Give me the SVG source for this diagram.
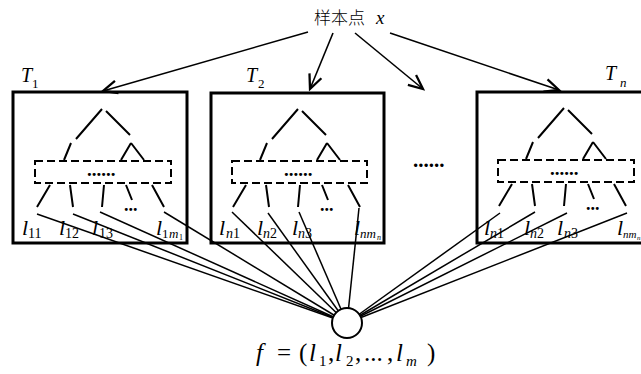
<svg xmlns="http://www.w3.org/2000/svg" width="641" height="374" viewBox="0 0 641 374">
<style>
.box{fill:none;stroke:#000;stroke-width:3}
.tr{fill:none;stroke:#000;stroke-width:2}
.dash{fill:none;stroke:#000;stroke-width:2;stroke-dasharray:8 4}
.con{fill:none;stroke:#000;stroke-width:1.5}
.arr{fill:none;stroke:#000;stroke-width:1.6}
.it{font-family:"Liberation Serif","Times New Roman",serif;font-style:italic;fill:#000}
.rm{font-family:"Liberation Serif","Times New Roman",serif;fill:#000}
.L{font-size:22px}
.S{font-size:14px}
.dots{font-family:"Liberation Serif",serif;font-weight:bold;fill:#000}
</style>
<defs>
<marker id="ah" markerUnits="userSpaceOnUse" markerWidth="20" markerHeight="20" viewBox="-12 -6 14 12" refX="0" refY="0" orient="auto">
<path d="M-10,-4.5 L0,0 L-10,4.5" fill="none" stroke="#000" stroke-width="1.6"/>
</marker>
<g id="tree">
<path class="tr" d="M0,0 L-26,30 M4,2 L28,26 M-31,34 L-38,51 M29,34 L19,51 M29,34 L42,51"/>
<path class="tr" d="M-52,76 L-65,98 M-32,76 L-29,98 M2,76 L0,98 M24,76 L30,91 M50,76 L62,98"/>
</g>
</defs>

<g id="connectors">
<line class="arr" x1="308" y1="32" x2="103" y2="91" marker-end="url(#ah)"/>
<line class="arr" x1="333" y1="33" x2="310" y2="89" marker-end="url(#ah)"/>
<line class="arr" x1="355" y1="33" x2="423" y2="89" marker-end="url(#ah)"/>
<line class="arr" x1="390" y1="33" x2="559" y2="90" marker-end="url(#ah)"/>
<line class="con" x1="37" y1="214" x2="347" y2="323"/>
<line class="con" x1="73" y1="214" x2="347" y2="323"/>
<line class="con" x1="100" y1="212" x2="347" y2="323"/>
<line class="con" x1="164" y1="212" x2="347" y2="323"/>
<line class="con" x1="232" y1="212" x2="347" y2="323"/>
<line class="con" x1="268" y1="213" x2="347" y2="323"/>
<line class="con" x1="299" y1="212" x2="347" y2="323"/>
<line class="con" x1="359" y1="208" x2="347" y2="323"/>
<line class="con" x1="500" y1="213" x2="347" y2="323"/>
<line class="con" x1="535" y1="212" x2="347" y2="323"/>
<line class="con" x1="567" y1="213" x2="347" y2="323"/>
<line class="con" x1="627" y1="213" x2="347" y2="323"/>
</g>

<g id="source">
<text x="314" y="24" font-family="Noto Sans CJK SC, sans-serif" font-size="17" font-weight="300" fill="#000">样本点</text>
<text x="376" y="24" class="it" font-size="19">x</text>
</g>

<g id="T1">
<rect class="box" x="13" y="92" width="174" height="151"/>
<text x="21" y="82" class="it" font-size="20">T</text>
<text x="32" y="88" class="rm" font-size="13">1</text>
<use href="#tree" x="102" y="109"/>
<rect class="dash" x="35" y="161" width="136" height="22"/>
<text x="87" y="176" class="dots" font-size="19">......</text>
<text x="124" y="211" class="dots" font-size="18">...</text>
<text x="22" y="235" class="it L">l</text><text x="28" y="238" class="rm S">11</text>
<text x="59" y="235" class="it L">l</text><text x="65" y="238" class="rm S">12</text>
<text x="92" y="235" class="it L">l</text><text x="99" y="238" class="rm S">13</text>
<text x="156" y="235" class="it L">l</text><text x="162" y="238" class="rm" font-size="13">1</text><text x="169" y="238" class="it" font-size="13">m</text><text x="179" y="240" class="rm" font-size="8">1</text>
</g>

<g id="T2">
<rect class="box" x="211" y="93" width="173" height="150"/>
<text x="246" y="82" class="it" font-size="20">T</text>
<text x="258" y="88" class="rm" font-size="13">2</text>
<use href="#tree" x="298" y="109"/>
<rect class="dash" x="232" y="161" width="135" height="22"/>
<text x="284" y="176" class="dots" font-size="19">......</text>
<text x="320" y="211" class="dots" font-size="18">...</text>
<text x="219" y="235" class="it L">l</text><text x="226" y="238" class="it S">n</text><text x="233" y="238" class="rm S">1</text>
<text x="257" y="235" class="it L">l</text><text x="263" y="238" class="it S">n</text><text x="270" y="238" class="rm S">2</text>
<text x="292" y="235" class="it L">l</text><text x="298" y="238" class="it S">n</text><text x="305" y="238" class="rm S">3</text>
<text x="354" y="235" class="it L">l</text><text x="360" y="238" class="it" font-size="13">nm</text><text x="377" y="240" class="it" font-size="8">n</text>
</g>

<g id="gap">
<text x="413" y="167" class="dots" font-size="21">......</text>
</g>

<g id="Tn">
<rect class="box" x="477" y="92" width="170" height="151"/>
<text x="605" y="80" class="it" font-size="20">T</text>
<text x="620" y="87" class="it" font-size="13">n</text>
<use href="#tree" x="564" y="108"/>
<rect class="dash" x="498" y="160" width="136" height="22"/>
<text x="550" y="175" class="dots" font-size="19">......</text>
<text x="586" y="210" class="dots" font-size="18">...</text>
<text x="484" y="235" class="it L">l</text><text x="490" y="238" class="it S">n</text><text x="497" y="238" class="rm S">1</text>
<text x="524" y="235" class="it L">l</text><text x="530" y="238" class="it S">n</text><text x="537" y="238" class="rm S">2</text>
<text x="557" y="235" class="it L">l</text><text x="564" y="238" class="it S">n</text><text x="571" y="238" class="rm S">3</text>
<text x="617" y="235" class="it L">l</text><text x="623" y="238" class="it" font-size="11">nm</text><text x="637" y="240" class="it" font-size="7">n</text>
</g>

<g id="f">
<circle cx="347" cy="323" r="15" fill="#fff" stroke="#000" stroke-width="2"/>
<text x="256" y="361" class="it" font-size="25">f</text>
<text x="277" y="361" class="rm" font-size="25">=</text>
<text x="299" y="361" class="rm" font-size="25">(</text>
<text x="309" y="361" class="it" font-size="25">l</text>
<text x="319" y="366" class="rm" font-size="15">1</text>
<text x="328" y="361" class="rm" font-size="25">,</text>
<text x="335" y="361" class="it" font-size="25">l</text>
<text x="346" y="366" class="rm" font-size="15">2</text>
<text x="355" y="361" class="rm" font-size="25">,</text>
<text x="364" y="361" class="rm" font-size="25">...</text>
<text x="387" y="361" class="rm" font-size="25">,</text>
<text x="396" y="361" class="it" font-size="25">l</text>
<text x="406" y="366" class="it" font-size="15">m</text>
<text x="427" y="361" class="rm" font-size="25">)</text>
</g>
</svg>
